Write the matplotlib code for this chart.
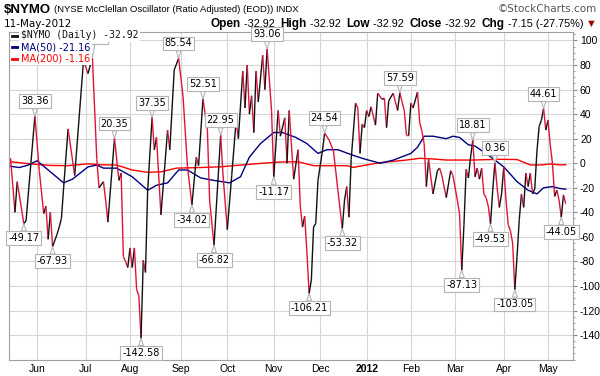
import numpy as np
import pandas as pd
import matplotlib
matplotlib.use("Agg")
import matplotlib.pyplot as plt
from matplotlib.collections import LineCollection
from matplotlib.lines import Line2D

# trading calendar (NYSE holidays in the window)
holidays = ["2011-05-30", "2011-07-04", "2011-09-05", "2011-11-24", "2011-12-26",
            "2012-01-02", "2012-01-16", "2012-02-20", "2012-04-06"]
dates = pd.date_range("2011-05-13", "2012-05-11",
                      freq=pd.offsets.CustomBusinessDay(holidays=holidays))

# NYMO turning points: session number -> value
nymo_day = [0, 2, 3, 6, 7, 11, 13, 15, 16, 17, 18, 19, 21, 22, 23, 24, 26, 29, 33, 35,
            37, 39, 40, 42, 43, 44, 47, 49, 50, 51, 52, 53, 54, 55, 56, 57, 58, 59, 60, 61,
            62, 64, 65, 66, 68, 71, 72, 74, 76, 78, 80, 82, 84, 85, 87, 89, 90, 92, 95, 96,
            98, 100, 102, 103, 105, 106, 107, 108, 109, 110, 111, 112, 114, 115, 116, 118, 119, 121, 122, 124,
            125, 126, 128, 130, 131, 132, 133, 134, 135, 136, 137, 138, 139, 141, 142, 144, 146, 148, 150, 151,
            152, 153, 154, 156, 157, 158, 159, 160, 161, 162, 163, 165, 166, 168, 169, 170, 171, 173, 174, 175,
            176, 177, 178, 179, 180, 181, 182, 184, 185, 186, 187, 188, 189, 191, 193, 194, 195, 197, 199, 200,
            202, 203, 204, 205, 206, 207, 208, 209, 210, 211, 212, 213, 214, 215, 216, 217, 218, 219, 220, 221,
            222, 223, 224, 225, 226, 227, 228, 229, 230, 231, 232, 233, 234, 235, 236, 237, 238, 239, 240, 241,
            242, 243, 244, 245, 246, 247, 248, 249, 250, 251]
nymo_val = [4, -40, -15, -49.17, -47, 38.36, -6, -41, -35, -62, -40, -67.93, -58, -52, -45, -20, 28, -10, 84, 73,
            86.05, 3, -20, -15, -30, -48, 20.35, -14, -8, -76, -80, -85, -69, -85, -69, -103, -108, -142.58, -79, -89,
            -22, 37.35, 11, 21, -42, 27, 11, 76, 85.54, 54, -3, -34.02, 5, -2, 52.51, 27, -30, -66.82, 22.95, -8,
            -54, -10, 35, 20, 75, 45, 80, 40, 55, 25, 75, 50, 88, 60, 93.06, 43, -11.17, 43, 22, 37,
            0, 43, -13, 11, -35, -52, -43, -73, -106.21, -95, -52, -49, -14, 10, 24.54, 19, 10, -22, -53.32, -30,
            -19, -44, 3, 49, 45, 8, 32, 29, 43, 38, 46, 31, 57, 52, 53, 29, 51, 57, 50, 43,
            57.59, 50, 43, 23, 23, 49, 45, 58, 33, 26, 16, -19, 3, -25, -6, -4, -10, -28, -6, -10,
            -30, -41, -87.13, -50, -5, -12, 5, 18.81, -11, -4, -13, -4, -25, -28, -35, -49.53, -22, 0.36, -20, -36,
            -25, -3, -30, -50, -55, -65, -103.05, -76, -46, -25, -36, -8, -19, -8, -25, -21, 10, 30, 35, 44.61,
            27, 35, 15, 0, -27, -22, -30, -44.05, -25.77, -32.92]

ma50_day = [0, 4, 8, 12, 18, 24, 28, 35, 39, 42, 48, 55, 62, 66, 71, 76, 80, 86, 92, 99,
            104, 108, 113, 119, 123, 129, 134, 139, 143, 148, 154, 159, 167, 173, 181, 184, 187, 191, 197, 200,
            203, 207, 210, 214, 218, 223, 229, 234, 238, 241, 245, 248, 251]
ma50_val = [-2.5, -3.5, -1.5, 2, -7, -16, -13, -3, -1.5, -4, -4, -11, -22, -18, -16, -5.5, -5.5, -12, -14, -16,
            -11, 5, 16, 25, 25, 21, 16, 8, 11, 11, 7, 4, 0, 2.5, 8, 13, 22, 22, 20, 22,
            21, 15, 14, 9, 4, -3, -15, -22, -25, -20, -19, -20.5, -21.16]

ma200_day = [0, 10, 18, 26, 35, 41, 48, 55, 62, 68, 75, 86, 95, 104, 114, 122, 130, 137, 144, 152,
             155, 161, 167, 179, 185, 191, 197, 209, 221, 229, 235, 240, 244, 249, 251]
ma200_val = [1.2, -0.7, -1.8, -2, -0.5, -1.3, -1.5, -5.5, -7.4, -7, -4, -3.5, -2.9, -1.5, 0, 1, 1.2, -2, -2, -2,
             -3.4, -1.4, 0.4, 2.6, 4, 3.5, 2.6, 2.6, 3.2, 3, -1.4, -1.4, -0.6, -1.4, -1.16]

# sessions that carry a value callout
label_days = [6, 11, 19, 37, 47, 59, 64, 76, 82, 87, 92, 95, 116, 119, 135, 142, 150, 176,
              204, 209, 217, 219, 228, 241, 249]

yticks = list(range(-140, 101, 20))

BLACK = "#111111"
DOWN = "#dc143c"

fig = plt.figure(figsize=(6, 3.76), dpi=100)
ax = fig.add_axes([9 / 600, 16 / 376, 564 / 600, 328 / 376])
ax.set_xlim(-0.7, 254.3)
ax.set_ylim(-160.3, 106.9)

# month grid
month_idx, month_lbl = [], []
for i, d in enumerate(dates):
    if i > 0 and d.month != dates[i - 1].month:
        month_idx.append(i)
        month_lbl.append(str(d.year) if d.month == 1 else d.strftime("%b"))
ax.set_xticks(month_idx)
ax.set_xticklabels(month_lbl, fontsize=7.5, family="Liberation Sans")
for t in ax.get_xticklabels():
    if t.get_text() == "2012":
        t.set_fontweight("bold")
ax.set_yticks(yticks)
ax.set_yticklabels([str(v) for v in yticks], fontsize=7.5, family="Liberation Sans")
ax.set_yticks(np.arange(-160, 106, 5), minor=True)
ax.yaxis.tick_right()
ax.tick_params(axis="x", length=0, pad=3)
ax.tick_params(axis="y", which="major", length=3, color="#888888", pad=2)
ax.tick_params(axis="y", which="minor", length=1.5, color="#888888")
ax.grid(True, color="#d6d6d6", lw=0.8)
ax.set_axisbelow(True)
for s in ax.spines.values():
    s.set_color("#a0a0a0")
    s.set_linewidth(0.8)

# moving averages
ax.plot(ma200_day, ma200_val, color="#ff0000", lw=1.0, zorder=2)
ax.plot(ma50_day, ma50_val, color="#000080", lw=1.0, zorder=3)

# oscillator, black when rising, red when falling
pts = np.column_stack([nymo_day, nymo_val])
segs = np.stack([pts[:-1], pts[1:]], axis=1)
cols = [BLACK if b > a else DOWN for a, b in zip(nymo_val[:-1], nymo_val[1:])]
ax.add_collection(LineCollection(segs, colors=cols, linewidths=1.0, zorder=4))

# callouts
val_of = dict(zip(nymo_day, nymo_val))
pos_of = {d: k for k, d in enumerate(nymo_day)}
for d in label_days:
    v = val_of[d]
    k = pos_of[d]
    nb = [nymo_val[j] for j in (k - 1, k + 1) if 0 <= j < len(nymo_val)]
    up = v >= max(nb)
    off = 7
    if up and v > 80 and d < 50:
        off = 11  # this one sits behind the legend
    ax.annotate(f"{v:.2f}", xy=(d, v), xytext=(0, off if up else -off), textcoords="offset points",
                ha="center", va="bottom" if up else "top", fontsize=7, zorder=6,
                bbox=dict(boxstyle="square,pad=0.2", fc="white", ec="#b4b4b4", lw=0.8),
                arrowprops=dict(arrowstyle="wedge,tail_width=0.5,shrink_factor=0.5",
                                fc="white", ec="#b4b4b4", lw=0.8, shrinkA=0, shrinkB=0))

# legend inside plot
leg = [("\\$NYMO (Daily) -32.92", BLACK, "DejaVu Sans Mono"),
       ("MA(50) -21.16", "#000080", "DejaVu Sans"),
       ("MA(200) -1.16", "#ff0000", "DejaVu Sans")]
for k, (txt, c, fam) in enumerate(leg):
    y = 1 - (35.5 + 11.5 * k) / 376
    fig.add_artist(Line2D([12 / 600, 19 / 600], [y, y], color=c, lw=2, zorder=8))
    fig.text(21 / 600, y, txt, color=c, fontsize=7, family=fam, va="center", ha="left", zorder=8,
             bbox=dict(boxstyle="square,pad=0.2", fc="white", ec="none"))

# header
fig.text(4 / 600, 1 - 10 / 376, "\\$NYMO", fontsize=9.5, fontweight="bold",
         family="Liberation Sans", va="center")
fig.text(54 / 600, 1 - 10 / 376, "(NYSE McClellan Oscillator (Ratio Adjusted) (EOD)) INDX",
         fontsize=6.8, family="Liberation Sans", va="center")
fig.text(597 / 600, 1 - 9 / 376, "\u00a9StockCharts.com", fontsize=7.5, color="#555555",
         family="DejaVu Sans", va="center", ha="right")
fig.text(4 / 600, 1 - 24 / 376, "11-May-2012", fontsize=7.5, family="DejaVu Sans", va="center")

r = fig.canvas.get_renderer()
pieces = [("Open", "bold", "k"), (" -32.92  ", "normal", "k"),
          ("High", "bold", "k"), (" -32.92  ", "normal", "k"),
          ("Low", "bold", "k"), (" -32.92  ", "normal", "k"),
          ("Close", "bold", "k"), (" -32.92  ", "normal", "k"),
          ("Chg", "bold", "k"), (" -7.15 (-27.75%) ", "normal", "k"),
          ("\u25bc", "normal", "#a00000")]
x = 597 / 600
for txt, w, c in reversed(pieces):
    t = fig.text(x, 1 - 24 / 376, txt, fontsize=7.8 if w == "normal" else 8.5, fontweight=w,
                 color=c, family="Liberation Sans", va="center", ha="right")
    x -= t.get_window_extent(r).width / fig.bbox.width

fig.savefig("out.png", dpi=100)
